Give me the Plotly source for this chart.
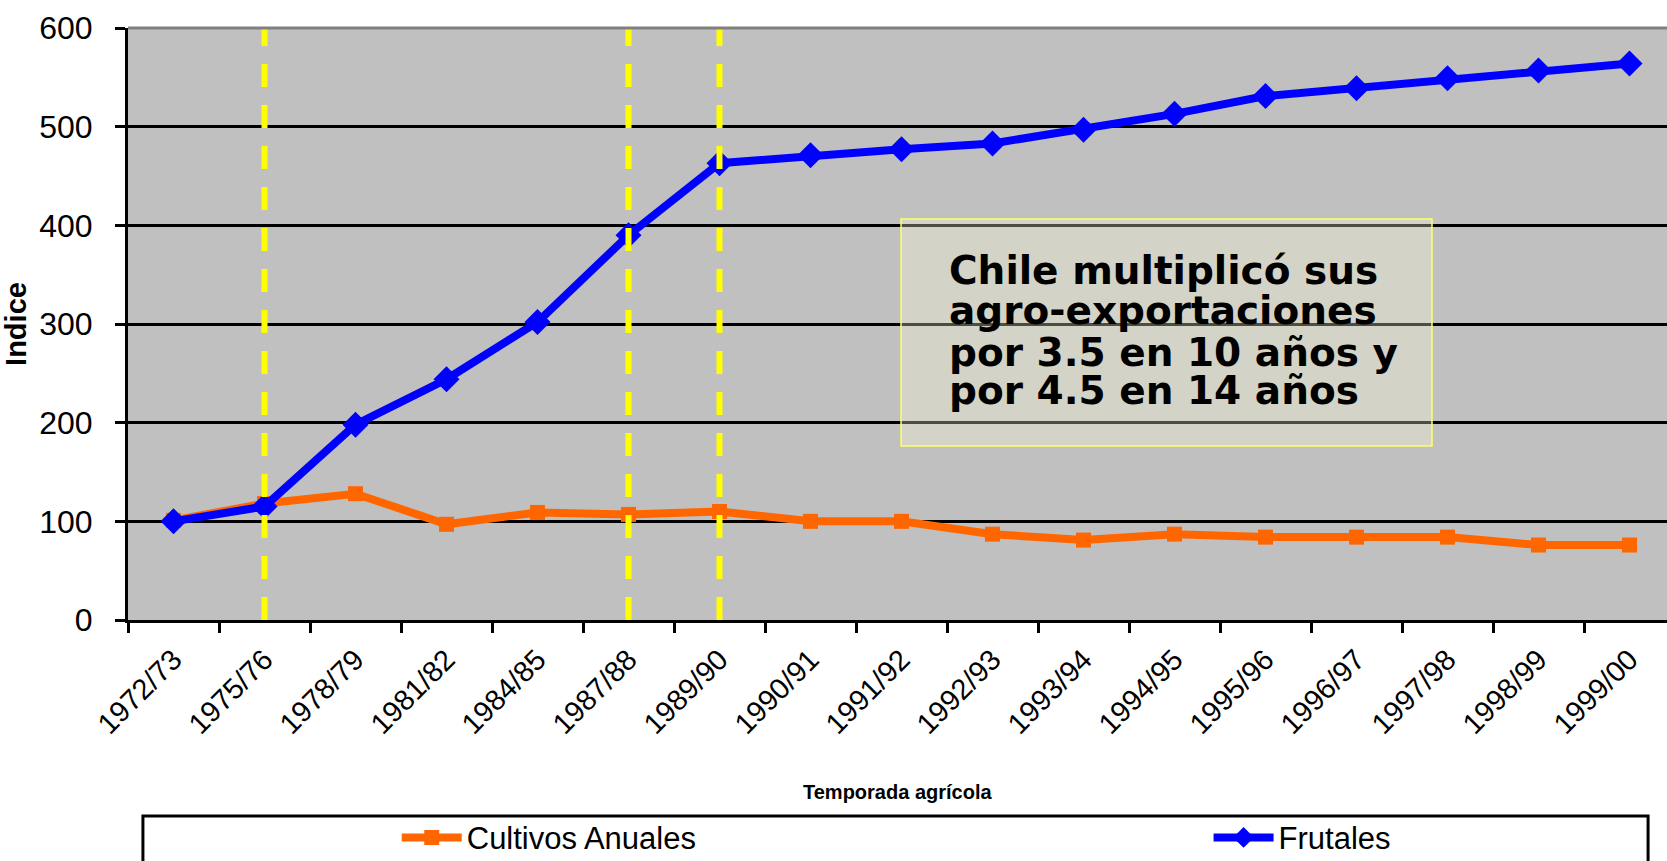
import plotly.graph_objects as go

temporadas = ["1972/73", "1975/76", "1978/79", "1981/82", "1984/85", "1987/88",
              "1989/90", "1990/91", "1991/92", "1992/93", "1993/94", "1994/95",
              "1995/96", "1996/97", "1997/98", "1998/99", "1999/00"]
cultivos_anuales = [101, 118, 128, 97, 109, 107, 110, 100, 100, 87, 81, 87, 84, 84, 84, 76, 76]
frutales = [100, 115, 198, 244, 302, 390, 463, 471, 477, 483, 497, 513, 531, 539, 549, 557, 564]
y_ticks = [0, 100, 200, 300, 400, 500, 600]
marked_seasons = ["1975/76", "1987/88", "1989/90"]
note_lines = ["Chile multiplicó sus", "agro-exportaciones",
              "por 3.5 en 10 años y", "por 4.5 en 14 años"]

SANS = "Liberation Sans, Arial, sans-serif"

fig = go.Figure()
fig.add_trace(go.Scatter(
    x=temporadas, y=cultivos_anuales, name="Cultivos Anuales",
    mode="lines+markers", legend="legend",
    line=dict(color="#FF6600", width=8),
    marker=dict(symbol="square", size=15, color="#FF6600"),
))
fig.add_trace(go.Scatter(
    x=temporadas, y=frutales, name="Frutales",
    mode="lines+markers", legend="legend2",
    line=dict(color="#0000FF", width=8),
    marker=dict(symbol="diamond", size=20, color="#0000FF"),
))

shapes = []
for s in marked_seasons:
    shapes.append(dict(type="line", xref="x", yref="y", x0=s, x1=s, y0=0, y1=600,
                       line=dict(color="#FFFF00", width=6, dash="23px,18px"),
                       layer="above"))
# top border of plot area
shapes.append(dict(type="line", xref="paper", yref="paper", x0=0, x1=1, y0=1, y1=1,
                   line=dict(color="#808080", width=3), layer="above"))
# note box
shapes.append(dict(type="rect", xref="paper", yref="paper",
                   x0=0.5023, x1=0.8473, y0=0.2939, y1=0.6774,
                   fillcolor="rgba(255,255,215,0.3)",
                   line=dict(color="#FFFF66", width=1.5), layer="above"))
# legend box
shapes.append(dict(type="rect", xref="paper", yref="paper",
                   x0=0.0097, x1=0.9877, y0=-0.50, y1=-0.331,
                   fillcolor="white", line=dict(color="black", width=3)))

annotations = []
line_y = [0.591, 0.522, 0.452, 0.388]
for txt, yy in zip(note_lines, line_y):
    annotations.append(dict(text=txt, xref="paper", yref="paper", x=0.532, y=yy,
                            xanchor="left", yanchor="middle", showarrow=False,
                            font=dict(family="DejaVu Sans", size=39, color="black",
                                      weight="bold")))
annotations.append(dict(text="<b>Temporada agrícola</b>", xref="paper", yref="paper",
                        x=0.5, y=-0.2905, xanchor="center", yanchor="middle",
                        showarrow=False,
                        font=dict(family=SANS, size=20, color="black")))

legend_common = dict(orientation="h", xanchor="left", yanchor="middle",
                     xref="container", yref="container", y=0.027,
                     font=dict(family=SANS, size=31, color="black"),
                     bgcolor="rgba(0,0,0,0)", borderwidth=0, itemwidth=60)

fig.update_layout(
    width=1667, height=861, autosize=False,
    margin=dict(l=128, r=0, t=28, b=241, autoexpand=False),
    paper_bgcolor="white", plot_bgcolor="#C0C0C0",
    showlegend=True,
    legend=dict(x=0.238, **legend_common),
    legend2=dict(x=0.725, **legend_common),
    shapes=shapes, annotations=annotations,
    xaxis=dict(type="category", range=[-0.5, 16.412], automargin=False,
               tickson="boundaries", ticks="outside", ticklen=10, tickwidth=2.5,
               tickcolor="black", showline=True, linecolor="black", linewidth=3,
               showgrid=False, tickangle=-45, ticklabelstandoff=8,
               tickfont=dict(family=SANS, size=29, color="black")),
    yaxis=dict(range=[0, 600], tickvals=y_ticks, ticks="outside", ticklen=10,
               tickwidth=2.5, tickcolor="black", showline=True, linecolor="black",
               linewidth=3, showgrid=True, gridcolor="black", gridwidth=2.5,
               zeroline=False, ticklabelstandoff=16, automargin=False,
               tickfont=dict(family=SANS, size=32, color="black"),
               title=dict(text="<b>Indice</b>", standoff=22,
                          font=dict(family=SANS, size=29, color="black"))),
)

fig.write_html("out.html", config={"displayModeBar": False},
               post_script="document.body.style.margin='0';")
